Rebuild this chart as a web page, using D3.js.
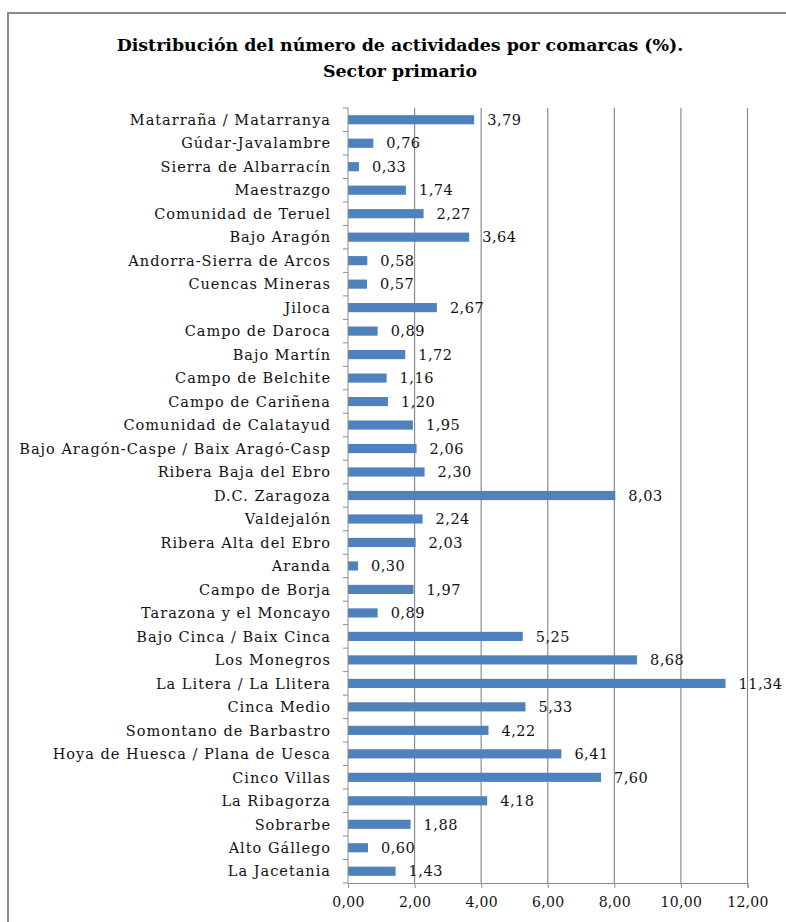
<!DOCTYPE html>
<html>
<head>
<meta charset="utf-8">
<script src="https://cdn.jsdelivr.net/npm/d3@7"></script>
<style>
  body { margin: 0; background: #fff; }
  svg { display: block; }
  .cat text { font-family: "DejaVu Serif", serif; font-size: 14.5px; letter-spacing: 1px; fill: #111; }
  .xaxis text { font-family: "DejaVu Serif", serif; font-size: 14px; letter-spacing: 0.3px; fill: #111; }
  .val { font-family: "DejaVu Serif", serif; font-size: 14.5px; letter-spacing: 0.5px; fill: #111; }
  .title { font-family: "DejaVu Serif", serif; font-size: 17.4px; font-weight: bold; fill: #000; }
</style>
</head>
<body>
<svg id="chart"></svg>
<script>
// Comarcas, de arriba abajo como en el grafico
var comarcas = [
  "Matarraña / Matarranya", "Gúdar-Javalambre", "Sierra de Albarracín", "Maestrazgo",
  "Comunidad de Teruel", "Bajo Aragón", "Andorra-Sierra de Arcos", "Cuencas Mineras",
  "Jiloca", "Campo de Daroca", "Bajo Martín", "Campo de Belchite", "Campo de Cariñena",
  "Comunidad de Calatayud", "Bajo Aragón-Caspe / Baix Aragó-Casp", "Ribera Baja del Ebro",
  "D.C. Zaragoza", "Valdejalón", "Ribera Alta del Ebro", "Aranda", "Campo de Borja",
  "Tarazona y el Moncayo", "Bajo Cinca / Baix Cinca", "Los Monegros", "La Litera / La Llitera",
  "Cinca Medio", "Somontano de Barbastro", "Hoya de Huesca / Plana de Uesca", "Cinco Villas",
  "La Ribagorza", "Sobrarbe", "Alto Gállego", "La Jacetania"
];

var porcentajes = [
  3.79, 0.76, 0.33, 1.74, 2.27, 3.64, 0.58, 0.57, 2.67, 0.89, 1.72, 1.16, 1.20,
  1.95, 2.06, 2.30, 8.03, 2.24, 2.03, 0.30, 1.97, 0.89, 5.25, 8.68, 11.34,
  5.33, 4.22, 6.41, 7.60, 4.18, 1.88, 0.60, 1.43
];

var xTicks = [0, 2, 4, 6, 8, 10, 12];

var tituloLineas = [
  "Distribución del número de actividades por comarcas (%).",
  "Sector primario"
];

var width = 786, height = 922;
var plotLeft = 348, plotRight = 747.5, plotTop = 108, plotBottom = 883;

var svg = d3.select("#chart")
  .attr("width", width)
  .attr("height", height);

// marco del grafico (se sale por la derecha y por abajo)
svg.append("rect")
  .attr("x", 8)
  .attr("y", 13)
  .attr("width", 800)
  .attr("height", 940)
  .style("fill", "none")
  .style("stroke", "#8c8c8c")
  .style("stroke-width", 2);

var fmt = function(v) { return d3.format(".2f")(v).replace(".", ","); };

var x = d3.scaleLinear().domain([0, 12]).range([plotLeft, plotRight]);
var y = d3.scaleBand().domain(comarcas).range([plotTop, plotBottom]).paddingInner(0.61).paddingOuter(0.305);

// titulo
svg.append("g")
  .selectAll("text")
  .data(tituloLineas)
  .enter().append("text")
  .attr("class", "title")
  .attr("x", 400)
  .attr("y", function(d, i) { return 51 + i * 26; })
  .attr("text-anchor", "middle")
  .text(function(d) { return d; });

// lineas de division verticales
svg.append("g")
  .selectAll("line")
  .data(xTicks.slice(1))
  .enter().append("line")
  .attr("x1", function(d) { return x(d); })
  .attr("x2", function(d) { return x(d); })
  .attr("y1", plotTop)
  .attr("y2", plotBottom)
  .style("stroke", "#8c8c8c")
  .style("stroke-width", 1.2);

// barras
svg.append("g")
  .selectAll("rect")
  .data(porcentajes)
  .enter().append("rect")
  .attr("x", x(0))
  .attr("y", function(d, i) { return y(comarcas[i]); })
  .attr("width", function(d) { return x(d) - x(0); })
  .attr("height", y.bandwidth())
  .style("fill", "#4f81bd");

// etiquetas de valor
svg.append("g")
  .selectAll("text")
  .data(porcentajes)
  .enter().append("text")
  .attr("class", "val")
  .attr("x", function(d) { return x(d) + 13; })
  .attr("y", function(d, i) { return y(comarcas[i]) + y.bandwidth() / 2; })
  .attr("dy", "0.36em")
  .text(function(d) { return fmt(d); });

// eje de categorias con marcas entre bandas
var cat = svg.append("g").attr("class", "cat");
var step = y.step();
cat.append("line")
  .attr("x1", plotLeft).attr("x2", plotLeft)
  .attr("y1", plotTop).attr("y2", plotBottom)
  .style("stroke", "#8c8c8c");
cat.selectAll("line.tk")
  .data(d3.range(comarcas.length + 1))
  .enter().append("line")
  .attr("class", "tk")
  .attr("x1", plotLeft - 5).attr("x2", plotLeft)
  .attr("y1", function(i) { return plotTop + i * step; })
  .attr("y2", function(i) { return plotTop + i * step; })
  .style("stroke", "#8c8c8c");
cat.selectAll("text")
  .data(comarcas)
  .enter().append("text")
  .attr("x", plotLeft - 17)
  .attr("y", function(d) { return y(d) + y.bandwidth() / 2; })
  .attr("dy", "0.36em")
  .attr("text-anchor", "end")
  .text(function(d) { return d; });

// eje x
var xAxis = svg.append("g")
  .attr("class", "xaxis")
  .attr("transform", "translate(0," + plotBottom + ")")
  .call(d3.axisBottom(x).tickValues(xTicks).tickSize(5).tickFormat(fmt));
xAxis.select(".domain").style("stroke", "#8c8c8c");
xAxis.selectAll(".tick line").style("stroke", "#8c8c8c");
xAxis.selectAll(".tick text").attr("y", 14);
</script>
</body>
</html>
